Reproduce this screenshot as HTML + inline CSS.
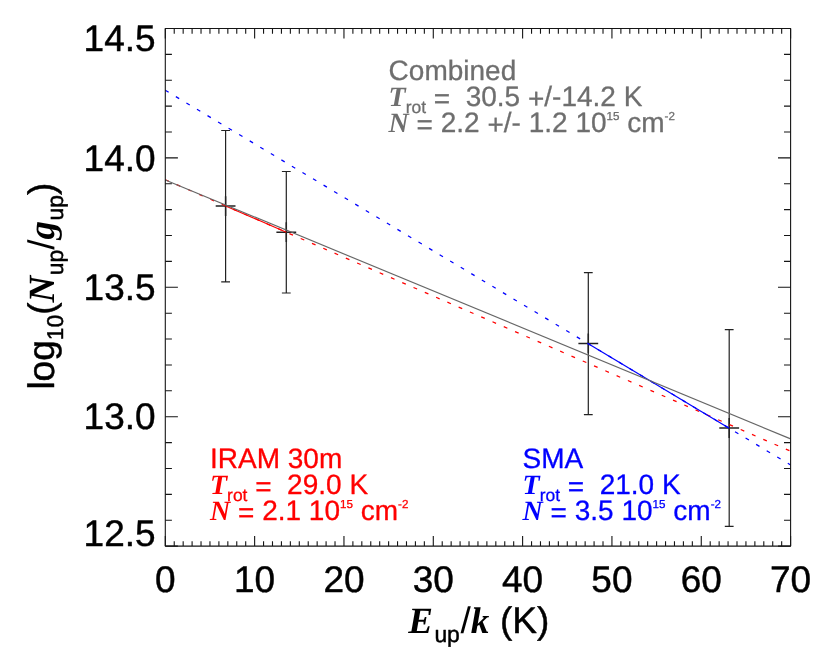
<!DOCTYPE html>
<html><head><meta charset="utf-8"><title>Rotation diagram</title>
<style>
html,body{margin:0;padding:0;background:#fff;overflow:hidden}
svg{display:block;will-change:transform}
text{font-family:"Liberation Sans",sans-serif;text-rendering:geometricPrecision;stroke:#000;stroke-width:.45px;stroke-linejoin:round}
.an text{stroke:inherit;stroke-width:.3px}
.bi{font-family:"Liberation Serif",serif;font-weight:bold;font-style:italic;stroke-width:0}
.ns{stroke-width:0}
</style></head><body>
<svg width="830" height="665" viewBox="0 0 830 665">
<rect x="0" y="0" width="830" height="665" fill="#fff"/>
<!-- error bars and markers -->
<path d="M225.60 130.50V281.80M221.20 130.50h8.80M221.20 281.80h8.80M286.30 171.50V293.00M281.90 171.50h8.80M281.90 293.00h8.80M588.30 272.60V414.60M583.90 272.60h8.80M583.90 414.60h8.80M729.20 329.60V526.40M724.80 329.60h8.80M724.80 526.40h8.80" fill="none" stroke="#222" stroke-width="1.2"/>
<path d="M215.70 206.10h19.80M225.60 196.20v19.80M276.40 232.20h19.80M286.30 222.30v19.80M578.40 343.40h19.80M588.30 333.50v19.80M719.30 428.00h19.80M729.20 418.10v19.80" fill="none" stroke="#222" stroke-width="1.5"/>
<!-- fitted lines -->
<g fill="none">
<line x1="165.30" y1="179.70" x2="790.60" y2="451.20" stroke="#ff0000" stroke-dasharray="3.9 8.4" stroke-width="1.25"/>
<line x1="165.30" y1="90.30" x2="790.60" y2="465.00" stroke="#0000ff" stroke-dasharray="3.9 8.4" stroke-width="1.25"/>
<line x1="225.60" y1="205.88" x2="286.30" y2="232.24" stroke="#ff0000" stroke-width="1.1"/>
<line x1="588.30" y1="343.78" x2="729.20" y2="428.21" stroke="#0000ff" stroke-width="1.2"/>
<line x1="165.30" y1="180.00" x2="790.60" y2="438.90" stroke="#666666" stroke-width="1.15"/>
</g>
<!-- axes -->
<rect x="165.3" y="28.5" width="625.30" height="517.60" fill="none" stroke="#151515" stroke-width="1.1" stroke-linejoin="round"/>
<path d="M165.30 546.10v-10.00M165.30 28.50v10.00M174.23 546.10v-4.80M174.23 28.50v5.20M183.17 546.10v-4.80M183.17 28.50v5.20M192.10 546.10v-4.80M192.10 28.50v5.20M201.03 546.10v-4.80M201.03 28.50v5.20M209.96 546.10v-4.80M209.96 28.50v5.20M218.90 546.10v-4.80M218.90 28.50v5.20M227.83 546.10v-4.80M227.83 28.50v5.20M236.76 546.10v-4.80M236.76 28.50v5.20M245.70 546.10v-4.80M245.70 28.50v5.20M254.63 546.10v-10.00M254.63 28.50v10.00M263.56 546.10v-4.80M263.56 28.50v5.20M272.49 546.10v-4.80M272.49 28.50v5.20M281.43 546.10v-4.80M281.43 28.50v5.20M290.36 546.10v-4.80M290.36 28.50v5.20M299.29 546.10v-4.80M299.29 28.50v5.20M308.23 546.10v-4.80M308.23 28.50v5.20M317.16 546.10v-4.80M317.16 28.50v5.20M326.09 546.10v-4.80M326.09 28.50v5.20M335.02 546.10v-4.80M335.02 28.50v5.20M343.96 546.10v-10.00M343.96 28.50v10.00M352.89 546.10v-4.80M352.89 28.50v5.20M361.82 546.10v-4.80M361.82 28.50v5.20M370.76 546.10v-4.80M370.76 28.50v5.20M379.69 546.10v-4.80M379.69 28.50v5.20M388.62 546.10v-4.80M388.62 28.50v5.20M397.55 546.10v-4.80M397.55 28.50v5.20M406.49 546.10v-4.80M406.49 28.50v5.20M415.42 546.10v-4.80M415.42 28.50v5.20M424.35 546.10v-4.80M424.35 28.50v5.20M433.29 546.10v-10.00M433.29 28.50v10.00M442.22 546.10v-4.80M442.22 28.50v5.20M451.15 546.10v-4.80M451.15 28.50v5.20M460.08 546.10v-4.80M460.08 28.50v5.20M469.02 546.10v-4.80M469.02 28.50v5.20M477.95 546.10v-4.80M477.95 28.50v5.20M486.88 546.10v-4.80M486.88 28.50v5.20M495.82 546.10v-4.80M495.82 28.50v5.20M504.75 546.10v-4.80M504.75 28.50v5.20M513.68 546.10v-4.80M513.68 28.50v5.20M522.61 546.10v-10.00M522.61 28.50v10.00M531.55 546.10v-4.80M531.55 28.50v5.20M540.48 546.10v-4.80M540.48 28.50v5.20M549.41 546.10v-4.80M549.41 28.50v5.20M558.35 546.10v-4.80M558.35 28.50v5.20M567.28 546.10v-4.80M567.28 28.50v5.20M576.21 546.10v-4.80M576.21 28.50v5.20M585.14 546.10v-4.80M585.14 28.50v5.20M594.08 546.10v-4.80M594.08 28.50v5.20M603.01 546.10v-4.80M603.01 28.50v5.20M611.94 546.10v-10.00M611.94 28.50v10.00M620.88 546.10v-4.80M620.88 28.50v5.20M629.81 546.10v-4.80M629.81 28.50v5.20M638.74 546.10v-4.80M638.74 28.50v5.20M647.67 546.10v-4.80M647.67 28.50v5.20M656.61 546.10v-4.80M656.61 28.50v5.20M665.54 546.10v-4.80M665.54 28.50v5.20M674.47 546.10v-4.80M674.47 28.50v5.20M683.41 546.10v-4.80M683.41 28.50v5.20M692.34 546.10v-4.80M692.34 28.50v5.20M701.27 546.10v-10.00M701.27 28.50v10.00M710.20 546.10v-4.80M710.20 28.50v5.20M719.14 546.10v-4.80M719.14 28.50v5.20M728.07 546.10v-4.80M728.07 28.50v5.20M737.00 546.10v-4.80M737.00 28.50v5.20M745.94 546.10v-4.80M745.94 28.50v5.20M754.87 546.10v-4.80M754.87 28.50v5.20M763.80 546.10v-4.80M763.80 28.50v5.20M772.73 546.10v-4.80M772.73 28.50v5.20M781.67 546.10v-4.80M781.67 28.50v5.20M790.60 546.10v-10.00M790.60 28.50v10.00M165.30 28.50h12.60M790.60 28.50h-12.60M165.30 54.38h6.60M790.60 54.38h-6.60M165.30 80.26h6.60M790.60 80.26h-6.60M165.30 106.14h6.60M790.60 106.14h-6.60M165.30 132.02h6.60M790.60 132.02h-6.60M165.30 157.90h12.60M790.60 157.90h-12.60M165.30 183.78h6.60M790.60 183.78h-6.60M165.30 209.66h6.60M790.60 209.66h-6.60M165.30 235.54h6.60M790.60 235.54h-6.60M165.30 261.42h6.60M790.60 261.42h-6.60M165.30 287.30h12.60M790.60 287.30h-12.60M165.30 313.18h6.60M790.60 313.18h-6.60M165.30 339.06h6.60M790.60 339.06h-6.60M165.30 364.94h6.60M790.60 364.94h-6.60M165.30 390.82h6.60M790.60 390.82h-6.60M165.30 416.70h12.60M790.60 416.70h-12.60M165.30 442.58h6.60M790.60 442.58h-6.60M165.30 468.46h6.60M790.60 468.46h-6.60M165.30 494.34h6.60M790.60 494.34h-6.60M165.30 520.22h6.60M790.60 520.22h-6.60M165.30 546.10h12.60M790.60 546.10h-12.60" fill="none" stroke="#151515" stroke-width="1.1"/>
<!-- tick labels -->
<text x="155.6" y="50.50" text-anchor="end" font-size="37.0">14.5</text>
<text x="155.6" y="170.60" text-anchor="end" font-size="37.0">14.0</text>
<text x="155.6" y="300.00" text-anchor="end" font-size="37.0">13.5</text>
<text x="155.6" y="429.40" text-anchor="end" font-size="37.0">13.0</text>
<text x="155.6" y="545.70" text-anchor="end" font-size="37.0">12.5</text>
<text x="165.30" y="592.3" text-anchor="middle" font-size="37.0">0</text>
<text x="254.63" y="592.3" text-anchor="middle" font-size="37.0">10</text>
<text x="343.96" y="592.3" text-anchor="middle" font-size="37.0">20</text>
<text x="433.29" y="592.3" text-anchor="middle" font-size="37.0">30</text>
<text x="522.61" y="592.3" text-anchor="middle" font-size="37.0">40</text>
<text x="611.94" y="592.3" text-anchor="middle" font-size="37.0">50</text>
<text x="701.27" y="592.3" text-anchor="middle" font-size="37.0">60</text>
<text x="790.60" y="592.3" text-anchor="middle" font-size="37.0">70</text>
<!-- axis titles -->
<text x="408.2" y="633.0" font-size="37.0" xml:space="preserve"><tspan class="bi">E</tspan><tspan font-size="22.9" dx="1.5" dy="8.7">up</tspan><tspan class="ns" dx="0.6" dy="-8.7">/</tspan><tspan class="bi">k</tspan><tspan dx="0.4"> (K)</tspan></text>
<text transform="translate(53.7 389.6) rotate(-90)" font-size="37.0" xml:space="preserve">log<tspan font-size="22.9" dy="9.3">10</tspan><tspan dy="-9.3">(</tspan><tspan class="bi">N</tspan><tspan font-size="22.9" dx="0.5" dy="8.8">up</tspan><tspan class="ns" dy="-8.8">/</tspan><tspan class="bi">g</tspan><tspan font-size="22.9" dx="0.5" dy="8.8">up</tspan><tspan dy="-8.8">)</tspan></text>
<!-- annotations -->
<g class="an" fill="#6e6e6e" style="stroke:#6e6e6e" font-size="28.0">
<text x="388.60" y="80.40">Combined</text>
<text x="388.60" y="106.20" xml:space="preserve"><tspan class="bi">T</tspan><tspan font-size="17.4" dy="6.4">rot</tspan><tspan dy="-6.4"> </tspan><tspan dy="2.0">=</tspan><tspan dy="-2.0">  30.5 </tspan><tspan dy="2.2">+</tspan><tspan dy="-2.2">/-14.2 K</tspan></text>
<text x="388.60" y="132.00" xml:space="preserve"><tspan class="bi">N</tspan> <tspan dy="2.0">=</tspan><tspan dy="-2.0"> 2.2 </tspan><tspan dy="2.2">+</tspan><tspan dy="-2.2">/- 1.2 10</tspan><tspan font-size="11.6" dy="-12.2">15</tspan><tspan dy="12.2"> cm</tspan><tspan font-size="11.6" dy="-12.2">-2</tspan></text>
</g>
<g class="an" fill="#ff0000" style="stroke:#ff0000" font-size="28.0">
<text x="210.00" y="468.00">IRAM 30m</text>
<text x="210.00" y="494.30" xml:space="preserve"><tspan class="bi">T</tspan><tspan font-size="17.4" dy="6.4">rot</tspan><tspan dy="-6.4"> </tspan><tspan dy="2.0">=</tspan><tspan dy="-2.0">  29.0 K</tspan></text>
<text x="210.00" y="520.30" xml:space="preserve"><tspan class="bi">N</tspan> <tspan dy="2.0">=</tspan><tspan dy="-2.0"> 2.1 10</tspan><tspan font-size="11.6" dy="-12.2">15</tspan><tspan dy="12.2"> cm</tspan><tspan font-size="11.6" dy="-12.2">-2</tspan></text>
</g>
<g class="an" fill="#0000ff" style="stroke:#0000ff" font-size="28.0">
<text x="522.60" y="468.00">SMA</text>
<text x="522.60" y="494.30" xml:space="preserve"><tspan class="bi">T</tspan><tspan font-size="17.4" dy="6.4">rot</tspan><tspan dy="-6.4"> </tspan><tspan dy="2.0">=</tspan><tspan dy="-2.0">  21.0 K</tspan></text>
<text x="522.60" y="520.30" xml:space="preserve"><tspan class="bi">N</tspan> <tspan dy="2.0">=</tspan><tspan dy="-2.0"> 3.5 10</tspan><tspan font-size="11.6" dy="-12.2">15</tspan><tspan dy="12.2"> cm</tspan><tspan font-size="11.6" dy="-12.2">-2</tspan></text>
</g>
</svg>
</body></html>
